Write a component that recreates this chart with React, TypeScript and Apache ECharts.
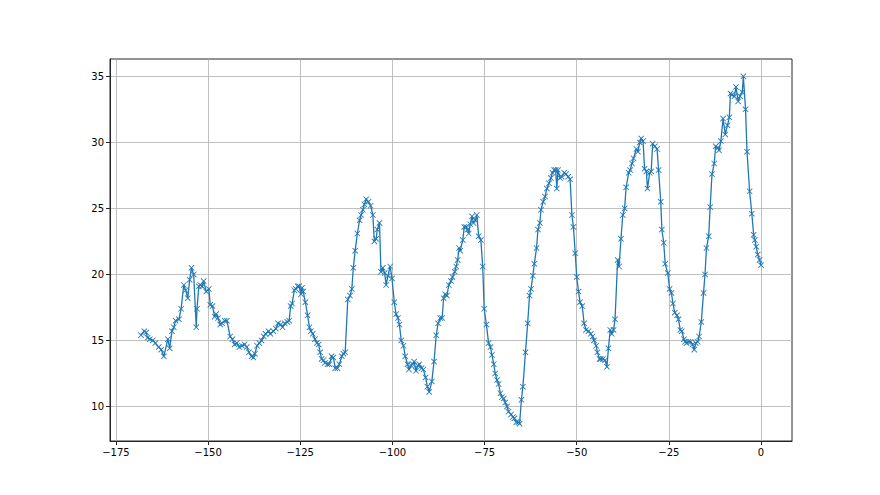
import React, { useEffect, useRef } from "react";
import * as echarts from "echarts";

const hours: number[] = [
  -168.2, -167.3, -166.8, -166.4, -165.8, -165.0, -164.3, -163.4, -162.7, -162.0,
  -160.9, -160.4, -159.8, -159.3, -158.8, -157.9, -157.3, -156.6, -156.1, -155.5,
  -155.0, -154.5, -153.9, -153.2, -153.0, -152.5, -152.1, -151.6, -151.2, -150.5,
  -149.8, -149.4, -148.8, -148.2, -147.8, -147.3, -146.7, -146.2, -145.5, -144.9,
  -144.0, -143.4, -142.8, -142.2, -141.5, -140.8, -140.1, -139.5, -138.9,
  -138.2, -137.7, -137.3, -136.7, -136.1, -135.5, -134.9, -134.4, -133.6, -133.1,
  -132.3, -131.6, -131.0, -130.3, -129.8, -129.2, -128.5, -128.0, -127.6, -127.2,
  -126.6, -126.2, -125.7, -125.3, -124.8, -124.5, -124.2, -123.6, -123.0, -122.5,
  -122.1, -121.6, -121.0, -120.5, -120.0, -119.6, -119.2, -118.7, -118.3, -117.6,
  -117.1, -116.5, -116.0, -115.5, -114.9, -114.4, -113.7, -113.3, -112.8, -112.1,
  -111.5, -111.0,
  -110.6, -110.1, -109.5, -108.9, -108.5, -108.0, -107.6, -107.1, -106.5, -105.9,
  -105.3, -104.9, -104.4, -104.1, -103.5, -103.1, -102.6, -102.1, -101.7, -101.2,
  -100.6, -100.1, -99.5, -99.0, -98.5, -98.1, -97.6, -97.0, -96.5, -95.9,
  -95.5, -94.9, -94.5, -94.1, -93.6, -93.1, -92.7, -92.1, -91.6, -91.0,
  -90.5, -90.0, -89.3, -88.7, -88.1, -87.6, -87.0, -86.5, -86.1, -85.7,
  -85.2, -84.7, -84.1, -83.7, -83.1, -82.7, -82.3, -81.9,
  -81.6, -80.9, -80.5, -80.0, -79.6, -79.3, -78.9, -78.4, -78.0, -77.5,
  -77.1, -76.6, -76.0, -75.5, -75.1, -74.5, -73.9, -73.4, -73.0, -72.5,
  -72.1, -71.6, -71.2, -70.7, -70.3, -69.8, -69.4, -68.9, -68.5, -67.8,
  -67.3, -66.9, -66.4, -65.8, -65.5, -65.0, -64.6, -63.9, -63.3, -62.8,
  -62.4, -61.9, -61.5, -60.9, -60.5, -60.0, -59.7, -59.1,
  -58.6, -58.1, -57.5, -57.0, -56.6, -56.1, -55.7, -55.4, -55.1,
  -54.5, -54.1, -53.4, -52.9, -52.3, -51.8, -51.3, -50.9, -50.4, -50.0,
  -49.5, -49.1, -48.5, -48.0, -47.5, -46.8, -46.2, -45.7, -45.3, -44.7,
  -44.4, -43.8, -43.5, -42.9, -42.3, -41.8, -41.4, -40.9, -40.5, -40.0,
  -39.6, -38.9, -38.5, -38.0, -37.5, -37.0, -36.6, -35.9, -35.5, -35.0,
  -34.6, -33.8, -33.4, -32.9, -32.5, -32.0, -31.6, -31.1, -30.8, -30.2,
  -29.8, -29.4, -28.8, -28.2, -27.8, -27.2, -26.9, -26.4, -26.0, -25.3,
  -24.8, -24.3, -23.9, -23.4, -22.8, -22.4, -21.9,
  -21.5, -20.9, -20.6, -20.2, -19.7, -19.1, -18.6, -18.1, -17.7, -17.2,
  -16.8, -16.2, -15.6, -15.2, -14.8, -14.2, -13.8, -13.3, -12.7, -12.3,
  -11.7, -11.4, -10.9, -10.3, -9.7, -9.1, -8.6, -8.3, -7.9, -7.2,
  -6.8, -6.2, -5.7, -5.1, -4.8, -4.2, -3.8, -3.1, -2.5, -2.0,
  -1.7, -1.3, -0.9, -0.4, 0.0,
];

const values: number[] = [
  15.4, 15.7, 15.6, 15.2, 15.1, 15.0, 14.8, 14.5, 14.3, 13.8,
  15.1, 14.4, 15.7, 16.0, 16.5, 16.6, 17.4, 19.2, 18.8, 18.2,
  19.6, 20.5, 20.0, 16.0, 17.4, 19.1, 19.2, 19.1, 19.5, 18.7,
  18.9, 17.7, 17.6, 16.8, 17.0, 16.7, 16.2, 16.3, 16.5, 16.5,
  15.3, 15.1, 14.7, 14.8, 14.5, 14.6, 14.7, 14.5, 14.1,
  13.8, 13.7, 14.0, 14.6, 14.8, 15.0, 15.3, 15.5, 15.7, 15.5,
  15.7, 15.9, 16.3, 16.2, 16.0, 16.3, 16.4, 16.5, 17.6, 17.8,
  18.8, 18.9, 19.1, 19.1, 18.5, 19.0, 18.7, 17.9, 16.9, 16.0,
  15.7, 15.5, 15.1, 14.8, 14.7, 14.1, 13.6, 13.5, 13.3, 13.2,
  13.2, 13.8, 13.7, 12.9, 12.9, 13.2, 13.8, 14.0, 14.1, 18.1,
  18.4, 18.9,
  20.5, 21.8, 23.1, 24.1, 24.5, 24.9, 25.3, 25.7, 25.5, 25.2,
  24.5, 22.5, 22.7, 23.4, 23.9, 20.2, 20.5, 20.1, 19.2, 19.9,
  20.6, 19.7, 17.9, 17.0, 16.7, 16.2, 15.0, 14.6, 13.8, 13.2,
  12.8, 13.1, 13.2, 13.4, 12.7, 13.1, 13.2, 12.9, 12.8, 12.2,
  11.5, 11.1, 11.9, 13.4, 15.4, 16.3, 16.7, 16.7, 18.2, 18.5,
  18.4, 19.2, 19.5, 19.8, 20.2, 20.6, 21.1, 22.0,
  21.8, 22.6, 23.6, 23.6, 23.4, 23.1, 23.8, 24.4, 23.9, 24.1,
  24.5, 22.9, 22.6, 20.6, 17.4, 16.2, 14.8, 14.5, 13.9, 13.2,
  12.5, 12.0, 11.7, 11.0, 10.7, 10.6, 10.3, 10.0, 9.6, 9.4,
  9.2, 9.1, 8.8, 8.8, 8.7, 10.5, 11.5, 14.1, 16.3, 18.4,
  18.9, 19.9, 20.8, 22.0, 23.4, 23.9, 24.9, 25.5,
  25.9, 26.5, 26.9, 27.3, 27.7, 27.9, 27.9, 26.5, 27.9,
  27.3, 27.4, 27.7, 27.6, 27.4, 27.2, 24.5, 23.6, 21.6, 19.8,
  18.7, 17.9, 17.6, 16.3, 15.8, 15.7, 15.5, 15.3, 15.0, 14.6,
  14.1, 13.6, 13.6, 13.6, 13.5, 13.0, 14.4, 15.8, 15.5, 15.8,
  16.6, 21.1, 20.6, 22.7, 24.5, 25.0, 26.6, 27.7, 27.9, 28.4,
  28.8, 29.5, 29.3, 30.0, 30.3, 30.1, 28.0, 27.8, 26.5, 27.7,
  27.8, 29.9, 29.7, 29.5, 27.9, 25.5, 23.4, 22.4, 20.8, 20.1,
  18.9, 18.6, 17.8, 17.1, 16.9, 16.6, 15.8,
  15.7, 15.1, 14.9, 14.8, 14.9, 14.9, 14.7, 14.3, 14.8, 14.9,
  15.3, 16.4, 18.6, 20.0, 22.0, 22.9, 25.1, 27.6, 28.4, 29.7,
  29.6, 29.4, 30.1, 31.8, 30.6, 31.3, 31.9, 33.7, 33.6, 33.5,
  34.2, 33.1, 33.5, 33.8, 35.0, 32.5, 29.3, 26.3, 24.6, 23.0,
  22.6, 22.1, 21.5, 21.1, 20.7,
];

const xTicks: number[] = [-175, -150, -125, -100, -75, -50, -25, 0];
const yTicks: number[] = [10, 15, 20, 25, 30, 35];

const CROSS = "path://M0,1L1,0L5,4L9,0L10,1L6,5L10,9L9,10L5,6L1,10L0,9L4,5Z";

const fmt = (v: number) => String(v).replace("-", "\u2212");

export default function App() {
  const ref = useRef<HTMLDivElement>(null);
  useEffect(() => {
    if (!ref.current) return;
    const chart = echarts.init(ref.current, null, { renderer: "svg" });
    const data = hours.map((h, i) => [h, values[i]]);
    const labelStyle = {
      color: "#000",
      fontSize: 10,
      fontFamily: "DejaVu Sans",
    };
    chart.setOption({
      animation: false,
      backgroundColor: "#fff",
      grid: {
        left: 110,
        top: 59,
        width: 682,
        height: 382,
        show: true,
        borderColor: "#262626",
        borderWidth: 1,
        backgroundColor: "transparent",
      },
      xAxis: {
        type: "value",
        min: -176.6,
        max: 8.4,
        axisLine: { show: true, onZero: false, lineStyle: { color: "#262626", width: 1 } },
        axisTick: {
          show: true,
          inside: false,
          length: 4,
          customValues: xTicks,
          lineStyle: { color: "#262626", width: 1 },
        },
        axisLabel: {
          ...labelStyle,
          margin: 6,
          customValues: xTicks,
          formatter: (v: number) => fmt(v),
        },
        splitLine: { show: true, lineStyle: { color: "#b0b0b0", width: 0.8 } },
      },
      yAxis: {
        type: "value",
        min: 7.385,
        max: 36.315,
        axisLine: { show: true, onZero: false, lineStyle: { color: "#262626", width: 1 } },
        axisTick: {
          show: true,
          inside: false,
          length: 4,
          customValues: yTicks,
          lineStyle: { color: "#262626", width: 1 },
        },
        axisLabel: {
          ...labelStyle,
          margin: 6,
          customValues: yTicks,
          formatter: (v: number) => fmt(v),
        },
        splitLine: { show: true, lineStyle: { color: "#b0b0b0", width: 0.8 } },
      },
      series: [
        {
          type: "line",
          data,
          showAllSymbol: true,
          symbol: CROSS,
          symbolSize: 6,
          lineStyle: { color: "#1f77b4", width: 1.3 },
          itemStyle: { color: "#1f77b4" },
          emphasis: { disabled: true },
        },
      ],
    });
    return () => chart.dispose();
  }, []);
  return (
    <div
      ref={ref}
      style={{ position: "fixed", left: 0, top: 0, width: 880, height: 495 }}
    />
  );
}
